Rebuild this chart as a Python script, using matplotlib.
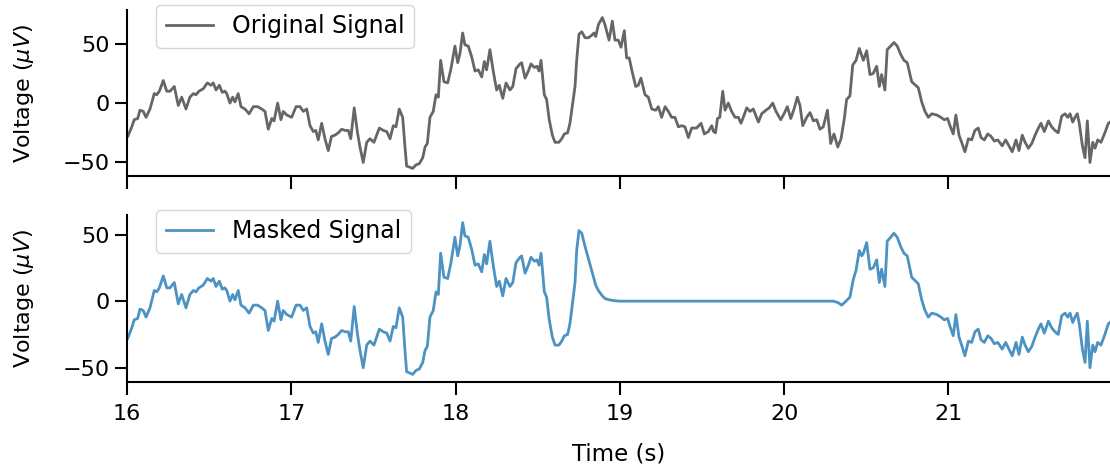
import numpy as np
import matplotlib.pyplot as plt

# time axis (s) and original signal (uV)
times = [
    16.000, 16.008, 16.029, 16.044, 16.065, 16.079, 16.099, 16.116, 16.140, 16.166,
    16.181, 16.197, 16.221, 16.242, 16.262, 16.288, 16.312, 16.333, 16.359, 16.383,
    16.404, 16.420, 16.438, 16.464, 16.489, 16.511, 16.525, 16.542, 16.562, 16.580,
    16.596, 16.607, 16.627, 16.643, 16.657, 16.677, 16.694, 16.718, 16.743, 16.769,
    16.795, 16.820, 16.840, 16.860, 16.881, 16.895, 16.917, 16.937, 16.951, 16.972,
    17.002, 17.029, 17.053, 17.073, 17.094, 17.114, 17.134, 17.149, 17.164, 17.185,
    17.205, 17.225, 17.245, 17.266, 17.286, 17.307, 17.327, 17.347, 17.362, 17.383,
    17.402, 17.418, 17.438, 17.459, 17.479, 17.503, 17.536, 17.560, 17.581, 17.601,
    17.621, 17.637, 17.657, 17.678, 17.692, 17.702, 17.722, 17.739, 17.759, 17.779,
    17.800, 17.814, 17.828, 17.844, 17.864, 17.881, 17.895, 17.909, 17.929, 17.952,
    17.972, 17.996, 18.013, 18.027, 18.043, 18.057, 18.077, 18.098, 18.118, 18.138,
    18.159, 18.175, 18.189, 18.209, 18.229, 18.250, 18.266, 18.287, 18.307, 18.331,
    18.348, 18.368, 18.392, 18.402, 18.423, 18.443, 18.459, 18.479, 18.495, 18.508,
    18.520, 18.540, 18.554, 18.570, 18.589, 18.605, 18.629, 18.646, 18.662, 18.682,
    18.696, 18.710, 18.727, 18.737, 18.751, 18.768, 18.788, 18.808, 18.828, 18.842,
    18.853, 18.869, 18.893, 18.909, 18.934, 18.954, 18.970, 18.990, 19.007, 19.027,
    19.041, 19.057, 19.072, 19.096, 19.112, 19.128, 19.153, 19.173, 19.194, 19.218,
    19.234, 19.254, 19.275, 19.295, 19.315, 19.335, 19.356, 19.376, 19.396, 19.417,
    19.437, 19.467, 19.494, 19.514, 19.538, 19.559, 19.570, 19.582, 19.594, 19.608,
    19.626, 19.640, 19.660, 19.680, 19.701, 19.721, 19.737, 19.751, 19.772, 19.792,
    19.812, 19.843, 19.863, 19.889, 19.909, 19.930, 19.950, 19.979, 19.999, 20.019,
    20.040, 20.060, 20.080, 20.096, 20.113, 20.137, 20.157, 20.178, 20.198, 20.218,
    20.238, 20.263, 20.283, 20.303, 20.326, 20.346, 20.366, 20.380, 20.400, 20.417,
    20.437, 20.457, 20.482, 20.502, 20.522, 20.542, 20.563, 20.579, 20.593, 20.613,
    20.627, 20.648, 20.668, 20.688, 20.709, 20.729, 20.749, 20.776, 20.816, 20.837,
    20.857, 20.877, 20.898, 20.928, 20.954, 20.974, 20.995, 21.009, 21.029, 21.045,
    21.064, 21.080, 21.100, 21.121, 21.141, 21.161, 21.181, 21.198, 21.218, 21.239,
    21.259, 21.279, 21.300, 21.327, 21.348, 21.368, 21.388, 21.411, 21.429, 21.449,
    21.466, 21.486, 21.507, 21.527, 21.547, 21.563, 21.583, 21.608, 21.628, 21.648,
    21.668, 21.689, 21.709, 21.726, 21.740, 21.756, 21.770, 21.784, 21.796, 21.815,
    21.831, 21.845, 21.861, 21.878, 21.892, 21.908, 21.928, 21.949, 21.973, 21.983,
]
original = [
    -29, -27, -20, -14, -13, -6, -7, -12, -5, 8,
    7, 10, 19, 10, 10, 14, -2, 5, -5, 5,
    8, 7, 10, 12, 17, 15, 17, 11, 15, 9,
    10, 8, 0, 5, 1, 8, -3, -5, -9, -3,
    -3, -5, -7, -22, -13, -15, 0, -14, -7, -10,
    -12, -3, -3, -7, -5, -19, -24, -23, -31, -17,
    -30, -40, -28, -27, -25, -22, -23, -23, -30, -4,
    -24, -37, -50, -33, -30, -33, -21, -23, -24, -30,
    -19, -20, -5, -12, -37, -53, -54, -55, -52, -51,
    -46, -37, -34, -12, -7, 7, 5, 36, 18, 17,
    29, 48, 34, 42, 59, 49, 48, 39, 27, 28,
    22, 35, 28, 45, 27, 11, 15, 4, 17, 11,
    14, 29, 33, 34, 21, 27, 33, 30, 31, 27,
    36, 7, 3, -14, -27, -33, -33, -30, -26, -25,
    -17, -3, 14, 36, 58, 60, 55, 55, 57, 59,
    56, 66, 72, 66, 53, 69, 53, 53, 47, 61,
    38, 38, 28, 14, 15, 21, 7, 5, -5, -6,
    -3, -12, -3, -7, -12, -12, -20, -19, -20, -29,
    -21, -21, -17, -26, -24, -19, -24, -25, -13, -12,
    10, -6, 0, -7, -12, -12, -17, -12, -4, -7,
    -5, -16, -9, -6, -4, 0, -7, -14, -9, -3,
    -13, -5, 5, -2, -19, -12, -8, -15, -14, -22,
    -20, -6, -34, -26, -37, -30, -13, 3, 6, 32,
    36, 46, 36, 44, 24, 25, 31, 14, 24, 11,
    45, 48, 51, 48, 41, 36, 34, 18, 13, 1,
    -7, -12, -9, -10, -12, -14, -13, -19, -26, -10,
    -27, -33, -41, -30, -31, -23, -21, -29, -31, -26,
    -28, -32, -31, -36, -31, -36, -41, -31, -40, -27,
    -33, -38, -34, -27, -21, -17, -24, -15, -20, -23,
    -25, -11, -9, -12, -9, -16, -12, -9, -17, -36,
    -46, -15, -50, -33, -38, -31, -33, -26, -17, -16,
]

# masked stretch: where the masked signal differs from the original
mask_times = [18.737, 18.751, 18.768, 18.788, 18.808, 18.828, 18.853, 18.869,
              18.893, 18.909, 18.934, 18.970, 19.000, 20.299, 20.326, 20.350,
              20.376, 20.400, 20.420, 20.437, 20.457, 20.472]
mask_values = [38, 53, 51, 41, 32, 23, 12, 8, 4, 2, 1, 0.3, 0,
               0, -1, -3, 0, 3, 16, 23, 38, 34]

t = np.array(times)
orig = np.array(original, dtype=float)
before = t < mask_times[0]
after = t > mask_times[-1]
masked_t = np.concatenate([t[before], mask_times, t[after]])
masked_v = np.concatenate([orig[before], mask_values, orig[after]])

plt.rcParams['font.family'] = 'DejaVu Sans'
fig = plt.figure(figsize=(11.1, 4.68), dpi=100)
ax1 = fig.add_axes([0.1144, 0.624, 0.8856, 0.3546])
ax2 = fig.add_axes([0.1144, 0.1838, 0.8856, 0.3568], sharex=ax1)

ax1.plot(t, orig, color='k', alpha=0.6, lw=2, label='Original Signal')
ax2.plot(masked_t, masked_v, color='C0', alpha=0.8, lw=2, label='Masked Signal')

for ax in (ax1, ax2):
    ax.spines['top'].set_visible(False)
    ax.spines['right'].set_visible(False)
    for s in ('left', 'bottom'):
        ax.spines[s].set_linewidth(1.5)
    ax.tick_params(labelsize=16, length=9, width=1.5)
    ax.tick_params(axis='x', pad=6.5)
    ax.set_yticks([-50, 0, 50])
    ax.set_ylabel(r'Voltage ($\mu V$)', fontsize=16)
    ax.yaxis.set_label_coords(-0.093, 0.5)
    ax.legend(loc='upper left', bbox_to_anchor=(0.03, 1.03), borderaxespad=0,
              fontsize=17, handlelength=2.0)

ax1.tick_params(labelbottom=False)
ax1.set_xlim(16, t[-1])
ax2.set_xticks([16, 17, 18, 19, 20, 21])
ax2.set_xlabel('Time (s)', fontsize=16.5)
ax2.xaxis.set_label_coords(0.5, -0.36)

fig.savefig('out.png', dpi=100)
